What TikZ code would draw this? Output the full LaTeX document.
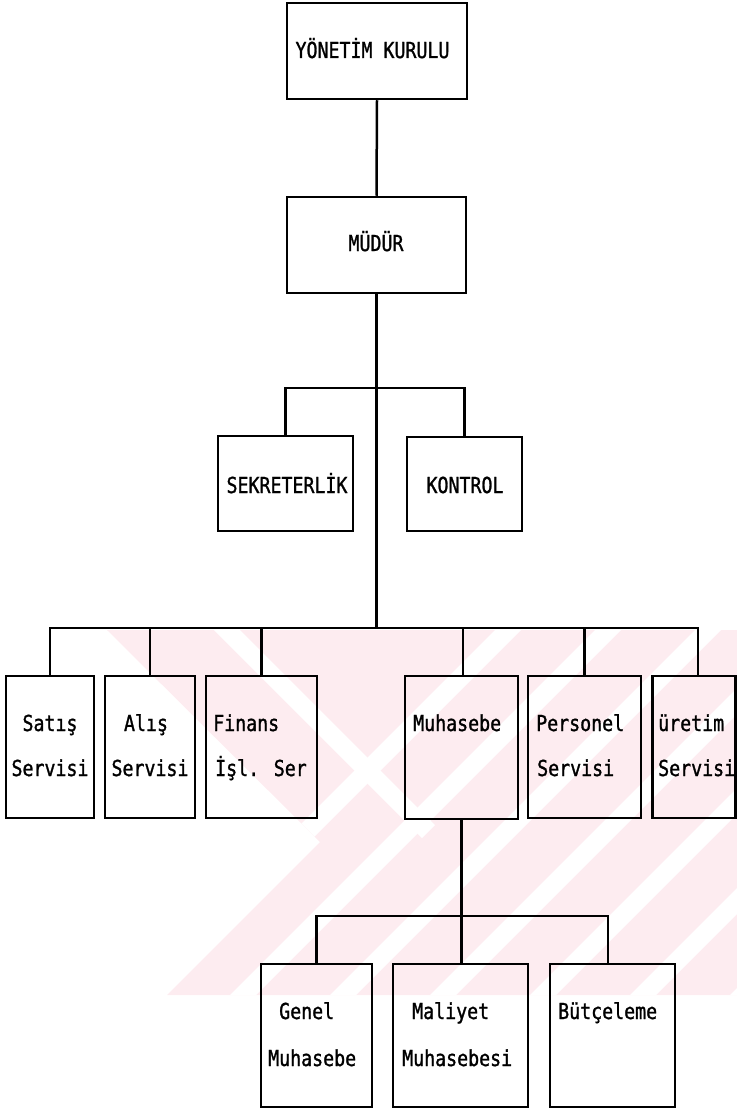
\documentclass[tikz,border=0pt]{standalone}
\usepackage{fontspec}
\newfontfamily\dotfont[FakeStretch=0.83,FakeBold=1.2]{DejaVu Sans Mono}
\definecolor{tezpink}{RGB}{253,236,240}

\begin{document}
\begin{tikzpicture}[x=1pt,y=-1pt,
  box/.style={draw, line width=2.5pt, rectangle, inner sep=0pt},
  wire/.style={line width=2.5pt},
  lbl/.style={inner sep=0pt, font=\dotfont\fontsize{22}{26}\selectfont},
]
\useasboundingbox (0,0) rectangle (737,1113);

% faint striped logo in the background
\begin{scope}
  \clip (107,630) -- (737,630) -- (737,995) -- (167,995) -- (320,842) -- cycle;
  \fill[tezpink] (0,600) rectangle (737,1000);
  \foreach \c in {1125,1225,...,1925}
    \fill[white] (\c-500,500) -- (\c+26-500,500) -- (\c+26-1100,1100) -- (\c-1100,1100) -- cycle;
  \fill[white] (84,500) -- (110,500) -- (435,825) -- (422,838) -- cycle;
\end{scope}

% boxes
\node[box, minimum width=180pt, minimum height=96pt]  (yk)      at (377,51)      {};
\node[box, minimum width=179pt, minimum height=96pt]  (mudur)   at (376.5,245)   {};
\node[box, minimum width=135pt, minimum height=95pt]  (sek)     at (285.5,483.5) {};
\node[box, minimum width=115pt, minimum height=94pt]  (kon)     at (464.5,484)   {};
\node[box, minimum width=88pt,  minimum height=142pt] (satis)   at (50,747)      {};
\node[box, minimum width=90pt,  minimum height=142pt] (alis)    at (150,747)     {};
\node[box, minimum width=111pt, minimum height=142pt] (finans)  at (261.5,747)   {};
\node[box, minimum width=113pt, minimum height=143pt] (muh)     at (461.5,747.5) {};
\node[box, minimum width=113pt, minimum height=142pt] (pers)    at (584.5,747)   {};
\node[box, minimum width=83pt,  minimum height=142pt] (uret)    at (694,747)     {};
\node[box, minimum width=111pt, minimum height=143pt] (genel)   at (316.5,1035.5){};
\node[box, minimum width=135pt, minimum height=143pt] (maliyet) at (460.5,1035.5){};
\node[box, minimum width=125pt, minimum height=143pt] (butce)   at (612.5,1035.5){};

% texts
\node[lbl, anchor=base] (yk-t)    at (372.5,58) {YÖNETİM KURULU};
\node[lbl, anchor=base] (mudur-t) at (376,251)  {MÜDÜR};
\node[lbl, anchor=base] (sek-t)   at (287,493)  {SEKRETERLİK};
\node[lbl, anchor=base] (kon-t)   at (465,493)  {KONTROL};

\node[lbl, anchor=base] (satis-t1) at (50,731)  {Satış};
\node[lbl, anchor=base] (satis-t2) at (50,776)  {Servisi};
\node[lbl, anchor=base] (alis-t1)  at (146,731) {Alış};
\node[lbl, anchor=base] (alis-t2)  at (150,776) {Servisi};
\node[lbl, anchor=base west] (finans-t1) at (213,731) {Finans};
\node[lbl, anchor=base west] (finans-t2) at (215,776) {İşl. Ser};
\node[lbl, anchor=base west] (muh-t)     at (413,731) {Muhasebe};
\node[lbl, anchor=base west] (pers-t1)   at (536,731) {Personel};
\node[lbl, anchor=base west] (pers-t2)   at (537,776) {Servisi};
\node[lbl, anchor=base west] (uret-t1)   at (658,731) {üretim};
\node[lbl, anchor=base west] (uret-t2)   at (658,776) {Servisi};

\node[lbl, anchor=base west] (genel-t1)   at (279,1019) {Genel};
\node[lbl, anchor=base west] (genel-t2)   at (268,1066) {Muhasebe};
\node[lbl, anchor=base west] (maliyet-t1) at (412,1019) {Maliyet};
\node[lbl, anchor=base west] (maliyet-t2) at (402,1066) {Muhasebesi};
\node[lbl, anchor=base west] (butce-t)    at (558,1019) {Bütçeleme};

% connectors
\coordinate (bar1) at (375,388);
\coordinate (bar2) at (375,628);
\coordinate (bar3) at (462,916);

\draw[wire] (yk.south) -- (mudur.north);
\draw[wire] (mudur.south) -- (mudur.south |- bar2);
\draw[wire] (sek.north) -- (sek.north |- bar1) -| (kon.north);

\draw[wire] (satis.north) -- (satis.north |- bar2) -| ([xshift=4pt]uret.north);
\draw[wire] (alis.north)   -- (alis.north |- bar2);
\draw[wire] (finans.north) -- (finans.north |- bar2);
\draw[wire] ([xshift=1.5pt]muh.north) -- ([xshift=1.5pt]muh.north |- bar2);
\draw[wire] (pers.north)   -- (pers.north |- bar2);

\draw[wire] (muh.south) -- (muh.south |- maliyet.north);
\draw[wire] (genel.north) -- (genel.north |- bar3) -| ([xshift=-4.5pt]butce.north);
\end{tikzpicture}
\end{document}
